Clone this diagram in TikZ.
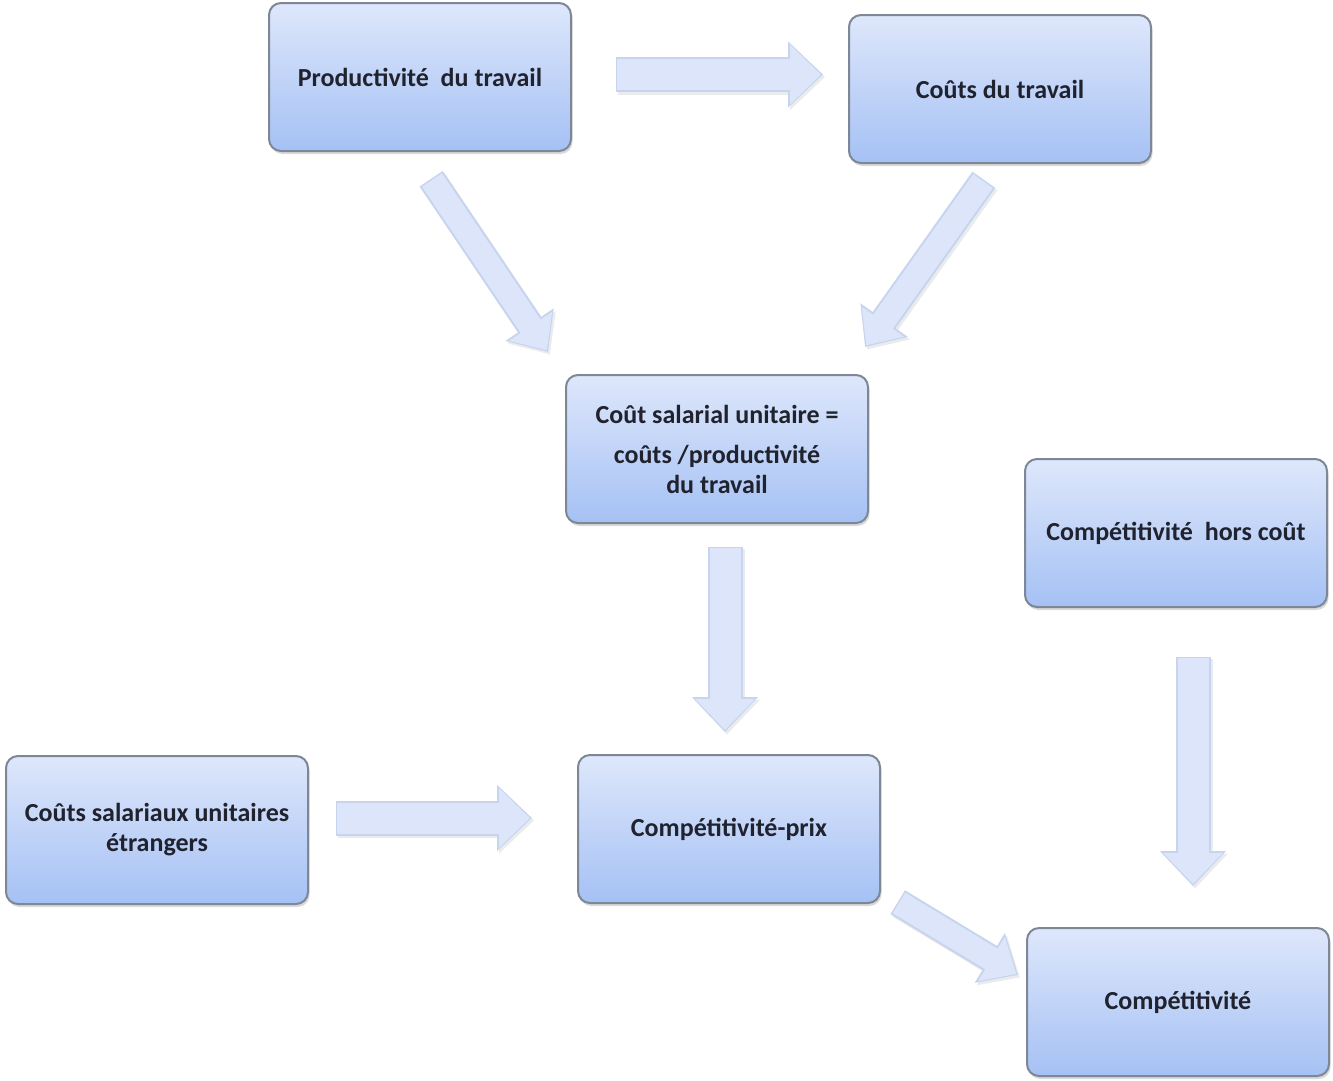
\documentclass[tikz,border=0pt]{standalone}
\usepackage{fontspec}
\setmainfont{Carlito}
\usetikzlibrary{arrows.meta,shadows}

\definecolor{boxtop}{RGB}{222,231,251}
\definecolor{boxbottom}{RGB}{165,193,244}
\definecolor{boxedge}{RGB}{125,135,150}
\definecolor{boxtext}{RGB}{32,34,46}
\definecolor{arrowbody}{RGB}{220,229,249}
\definecolor{arrowedge}{RGB}{198,212,237}
\definecolor{arrowshade}{RGB}{234,235,238}

% block arrow: style prefix, start, end
\newcommand{\flecha}[3]{%
    \draw[#1 edge, draw=arrowshade, transform canvas={xshift=2pt,yshift=-2.5pt}] (#2) -- (#3);
    \draw[#1 edge] (#2) -- (#3);
    \draw[#1 body] (#2) -- (#3);
}

\begin{document}
\begin{tikzpicture}
    [
        x=1pt, y=-1pt,
        box/.style={rectangle, rounded corners=12pt, draw=boxedge, line width=2pt,
            top color=boxtop, bottom color=boxbottom,
            minimum width=302pt, minimum height=148pt, align=center,
            text=boxtext, font=\fontsize{26}{30}\selectfont\bfseries,
            drop shadow={opacity=0.3, shadow xshift=1.5pt, shadow yshift=-3pt}},
        big edge/.style={line width=35pt, draw=arrowedge, shorten <=-1.5pt,
            -{Triangle[width=64pt,length=35pt]}},
        big body/.style={line width=31pt, draw=arrowbody, shorten >=2pt,
            -{Triangle[width=58pt,length=31pt]}},
        thin edge/.style={line width=28pt, draw=arrowedge, shorten <=-1.5pt,
            -{Triangle[width=56pt,length=33pt]}},
        thin body/.style={line width=24pt, draw=arrowbody, shorten >=2pt,
            -{Triangle[width=50pt,length=29pt]}},
    ]
        \useasboundingbox (0,0) rectangle (1333,1080);

        \node[box] (prod) at (420,77) {Productivité~ du travail};
        \node[box] (couts) at (1000,89) {Coûts du travail};
        \node[box] (csu) at (717,449) {Coût salarial unitaire =\\[10pt] coûts /productivité\\ du travail};
        \node[box] (hors) at (1176,533) {Compétitivité~ hors coût};
        \node[box] (etr) at (157,830) {Coûts salariaux unitaires\\ étrangers};
        \node[box] (prix) at (729,829) {Compétitivité-prix};
        \node[box] (compet) at (1178,1002) {Compétitivité};

        \coordinate (a1s) at (617,74.5);  \coordinate (a1e) at (823,74.5);
        \coordinate (a2s) at (432,180);   \coordinate (a2e) at (548,352);
        \coordinate (a3s) at (983,181);   \coordinate (a3e) at (865,347);
        \coordinate (a4s) at (725,548);   \coordinate (a4e) at (725,732);
        \coordinate (a5s) at (1193,658);  \coordinate (a5e) at (1193,886);
        \coordinate (a6s) at (337,818);   \coordinate (a6e) at (532,818);
        \coordinate (a7s) at (899,903);   \coordinate (a7e) at (1018,975);

        \flecha{big}{a1s}{a1e}
        \flecha{thin}{a2s}{a2e}
        \flecha{thin}{a3s}{a3e}
        \flecha{big}{a4s}{a4e}
        \flecha{big}{a5s}{a5e}
        \flecha{big}{a6s}{a6e}
        \flecha{thin}{a7s}{a7e}
    \end{tikzpicture}
\end{document}
